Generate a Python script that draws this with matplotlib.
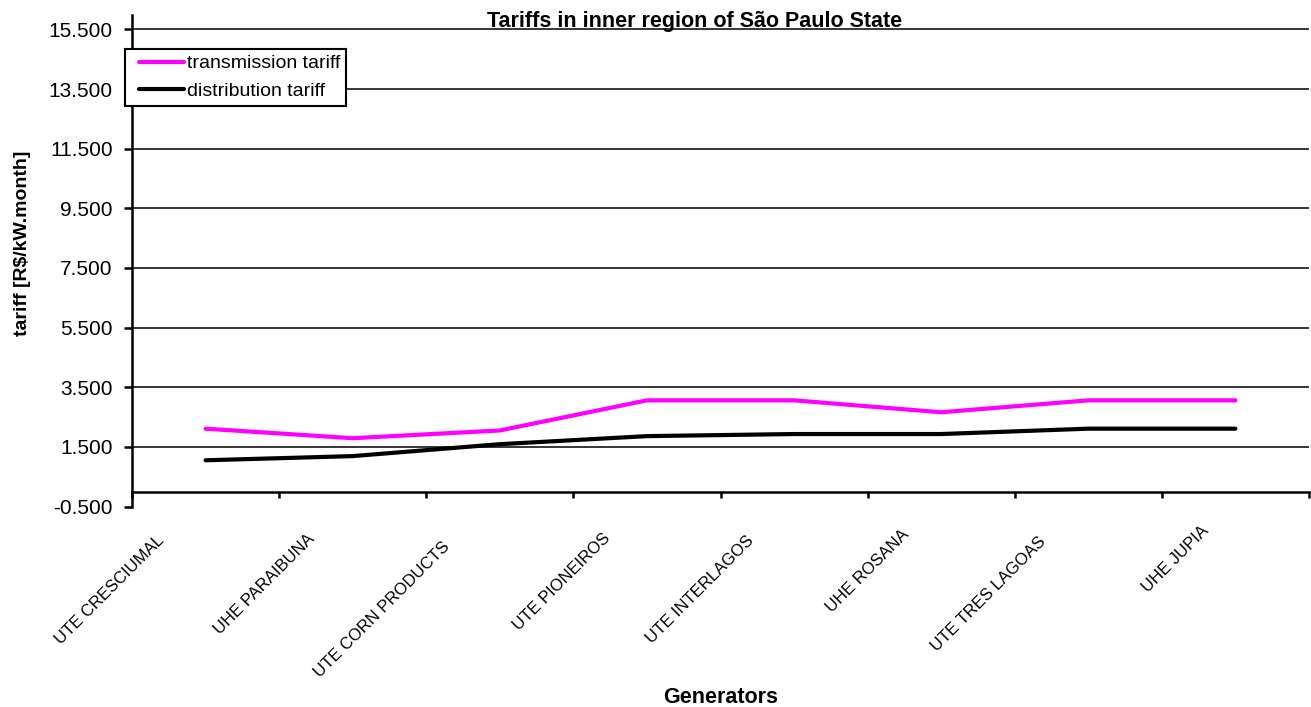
import matplotlib
matplotlib.use("Agg")
import matplotlib.pyplot as plt
from matplotlib import font_manager
from matplotlib.legend_handler import HandlerLine2D
import numpy as np

# Generator names and tariffs (R$/kW.month)
generators = ["UTE CRESCIUMAL", "UHE PARAIBUNA", "UTE CORN PRODUCTS", "UTE PIONEIROS",
              "UTE INTERLAGOS", "UHE ROSANA", "UTE TRES LAGOAS", "UHE JUPIA"]
transmission_tariff = [2.11, 1.79, 2.05, 3.06, 3.06, 2.66, 3.06, 3.06]
distribution_tariff = [1.05, 1.19, 1.59, 1.86, 1.93, 1.93, 2.11, 2.11]
y_ticks = [-0.5, 1.5, 3.5, 5.5, 7.5, 9.5, 11.5, 13.5, 15.5]

plt.rcParams["font.family"] = ["Liberation Sans", "DejaVu Sans"]

# condensed face for the category names, if available
try:
    font_manager.findfont("Liberation Sans Narrow", fallback_to_default=False)
    cat_family, cat_size = ["Liberation Sans Narrow", "DejaVu Sans"], 14.5
except ValueError:
    cat_family, cat_size = ["Liberation Sans", "DejaVu Sans"], 12

W, H = 1311, 707
fig = plt.figure(figsize=(W / 100, H / 100), dpi=100)
left, right, top, bottom = 132, 1309, 14.5, 506.5
ax = fig.add_axes([left / W, 1 - bottom / H, (right - left) / W, (bottom - top) / H])

n = len(generators)
x = np.arange(1, n + 1)
ax.set_xlim(0.5, n + 0.5)
ax.set_ylim(-0.5, 16.0)

# horizontal grid lines
ax.hlines(y_ticks[1:], 0.5, n + 0.5, colors="black", linewidth=1.1, zorder=1)

ax.plot(x, transmission_tariff, color="#FF00FF", linewidth=3.0,
        solid_capstyle="round", solid_joinstyle="round", label="transmission tariff", zorder=3)
ax.plot(x, distribution_tariff, color="black", linewidth=3.0,
        solid_capstyle="round", solid_joinstyle="round", label="distribution tariff", zorder=3)

# spines: category axis crosses at zero
for s in ("top", "right"):
    ax.spines[s].set_visible(False)
ax.spines["left"].set_linewidth(1.8)
ax.spines["bottom"].set_linewidth(1.8)
ax.spines["bottom"].set_position(("data", 0))

ax.set_yticks(y_ticks)
ax.set_yticklabels([f"{v:.3f}" for v in y_ticks], fontsize=15)
ax.tick_params(axis="y", direction="out", length=5.5, width=1.8, pad=8.5)

# category boundaries as ticks, names drawn separately
ax.set_xticks(np.arange(0.5, n + 1.0, 1.0))
ax.set_xticklabels([])
ax.tick_params(axis="x", direction="out", length=4.5, width=1.8)

# rotated category names; longer names sit further down-left
renderer = fig.canvas.get_renderer()
for xi, name in zip(x, generators):
    t = fig.text(0, 0, name, rotation=45, ha="right", va="top",
                 rotation_mode="anchor", fontsize=cat_size, family=cat_family)
    bw = t.get_window_extent(renderer).width
    dx = bw - 12
    cx = ax.transData.transform((xi, 0))[0]
    ax_x = cx - 15 - 0.33 * dx
    ax_y = H - (508 + 0.244 * dx)
    t.set_position((ax_x / W, ax_y / H))

fig.text(694.5 / W, 1 - 26.7 / H, "Tariffs in inner region of São Paulo State",
         ha="center", va="baseline", fontsize=15.5, fontweight="bold")
fig.text(720.5 / W, 1 - 703 / H, "Generators", ha="center", va="baseline",
         fontsize=15.5, fontweight="bold")
fig.text(23 / W, 1 - 243 / H, "tariff [R$/kW.month]", ha="center", va="center",
         rotation=90, fontsize=14, fontweight="bold")

fs_leg = 14
leg = ax.legend(loc="upper left", bbox_to_anchor=(125 / W, 1 - 49 / H),
                bbox_transform=fig.transFigure, borderaxespad=0, fontsize=fs_leg,
                frameon=True, fancybox=False, framealpha=1, edgecolor="black",
                handlelength=2.75, handletextpad=0.12, labelspacing=0.5,
                borderpad=0.3,
                handler_map={plt.Line2D: HandlerLine2D(xpad=0.4)})
leg.get_frame().set_linewidth(1.5)
leg.set_zorder(5)

fig.savefig("out.png", dpi=100)
